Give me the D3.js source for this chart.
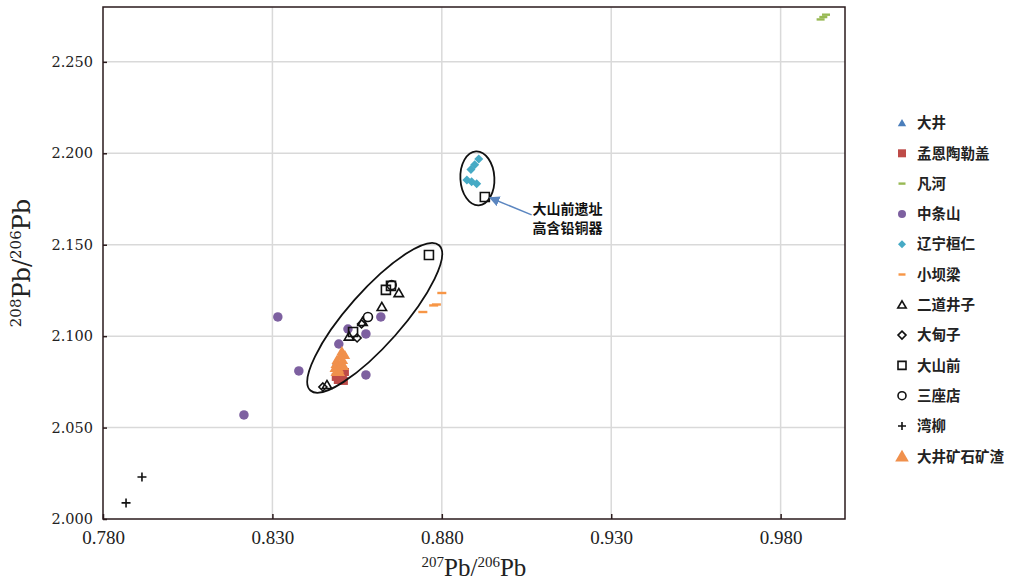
<!DOCTYPE html>
<html>
<head>
<meta charset="utf-8">
<script src="https://cdn.jsdelivr.net/npm/d3@7"></script>
<style>
  body { margin: 0; background: #fff; }
</style>
</head>
<body>
<svg id="chart"></svg>
<script>
// ---- data (207Pb/206Pb, 208Pb/206Pb) ----
const xTicks = [0.780, 0.830, 0.880, 0.930, 0.980];
const yTicks = [2.000, 2.050, 2.100, 2.150, 2.200, 2.250];

const dajing = [[0.8490, 2.0860], [0.8496, 2.0840]];
const mengen = [[0.8493, 2.0760], [0.8508, 2.0782], [0.8514, 2.0804], [0.8499, 2.0793],
                [0.8487, 2.0777], [0.8511, 2.0755], [0.8502, 2.0770]];
const fanhe = [[0.9918, 2.2732], [0.9926, 2.2745], [0.9934, 2.2758]];
const zhongtiao = [[0.8216, 2.0569], [0.8316, 2.1105], [0.8378, 2.0810], [0.8496, 2.0957],
                   [0.8523, 2.1039], [0.8576, 2.1012], [0.8576, 2.0788], [0.8620, 2.1105]];
const huanren = [[0.8909, 2.1969], [0.8897, 2.1937], [0.8886, 2.1912], [0.8874, 2.1854],
                 [0.8888, 2.1844], [0.8903, 2.1833]];
const xiaobaliang = [[0.8744, 2.1132], [0.8776, 2.1168], [0.8784, 2.1173], [0.8800, 2.1236]];
const erdao = [[0.8673, 2.1236], [0.8623, 2.1160], [0.8566, 2.1078], [0.8526, 2.0998], [0.8461, 2.0733]];
const dadianzi = [[0.8449, 2.0722], [0.8550, 2.0990], [0.8563, 2.1067]];
const dashanqian = [[0.8762, 2.1444], [0.8650, 2.1275], [0.8635, 2.1253], [0.8538, 2.1023], [0.8927, 2.1761]];
const sanzuodian = [[0.8582, 2.1105], [0.8652, 2.1280]];
const wanliu = [[0.7868, 2.0088], [0.7915, 2.0230]];
const slag = [[0.8505, 2.0919], [0.8514, 2.0897], [0.8499, 2.0892], [0.8490, 2.0870], [0.8508, 2.0870],
              [0.8487, 2.0848], [0.8502, 2.0848], [0.8484, 2.0826], [0.8496, 2.0821], [0.8511, 2.0837],
              [0.8487, 2.0804], [0.8499, 2.0804]];

const series = [
  { name: "大井", data: dajing, shape: "tri", color: "#4a7ebb", fill: true, size: 9 },
  { name: "孟恩陶勒盖", data: mengen, shape: "square", color: "#be4b48", fill: true, size: 8 },
  { name: "凡河", data: fanhe, shape: "dash", color: "#98b954", fill: true, size: 8 },
  { name: "中条山", data: zhongtiao, shape: "circle", color: "#7d60a0", fill: true, size: 9.5 },
  { name: "辽宁桓仁", data: huanren, shape: "diamond", color: "#46aac5", fill: true, size: 9 },
  { name: "小坝梁", data: xiaobaliang, shape: "dash", color: "#f79646", fill: true, size: 9 },
  { name: "二道井子", data: erdao, shape: "tri", color: "#111", fill: false, size: 9 },
  { name: "大甸子", data: dadianzi, shape: "diamond", color: "#111", fill: false, size: 8 },
  { name: "大山前", data: dashanqian, shape: "square", color: "#111", fill: false, size: 9 },
  { name: "三座店", data: sanzuodian, shape: "circle", color: "#111", fill: false, size: 9 },
  { name: "湾柳", data: wanliu, shape: "plus", color: "#111", fill: false, size: 9 },
  { name: "大井矿石矿渣", data: slag, shape: "tri", color: "#f0904c", fill: true, size: 10, legendSize: 13 }
];

// ellipses drawn around groups (centre in data units, radii in px, rotation deg)
const ellipses = [
  { cx: 0.8602, cy: 2.1100, rx: 97, ry: 27, rot: -48.5 },
  { cx: 0.8905, cy: 2.1863, rx: 17, ry: 27, rot: -3 }
];
const noteLines = ["大山前遗址", "高含铅铜器"];
const notePos = [0.9068, 2.1696];
const arrowTip = [0.8942, 2.1757];

// ---- layout ----
const W = 1015, H = 581;
const m = { left: 103, top: 7, right: 170, bottom: 62 };
const svg = d3.select("#chart").attr("width", W).attr("height", H);

const x = d3.scaleLinear().domain([0.780, 0.999]).range([m.left, W - m.right]);
const y = d3.scaleLinear().domain([2.000, 2.280]).range([H - m.bottom, m.top]);

function markerPath(shape, s) {
  const h = s / 2;
  switch (shape) {
    case "tri": return `M0,${-h}L${h * 1.05},${h * 0.8}L${-h * 1.05},${h * 0.8}Z`;
    case "square": return `M${-h},${-h}H${h}V${h}H${-h}Z`;
    case "diamond": return `M0,${-h}L${h},0L0,${h}L${-h},0Z`;
    case "circle": return d3.arc()({ innerRadius: 0, outerRadius: h, startAngle: 0, endAngle: 2 * Math.PI });
    case "dash": return `M${-h},-1.2H${h}V1.2H${-h}Z`;
    case "plus": return `M${-h},0H${h}M0,${-h}V${h}`;
  }
}

// gridlines
const g = svg.append("g");
g.selectAll(".vg").data(xTicks.slice(1)).join("line")
  .attr("x1", d => x(d)).attr("x2", d => x(d))
  .attr("y1", y.range()[0]).attr("y2", y.range()[1])
  .attr("stroke", "#d9d9d9").attr("stroke-width", 1.5);
g.selectAll(".hg").data(yTicks.slice(1)).join("line")
  .attr("y1", d => y(d)).attr("y2", d => y(d))
  .attr("x1", x.range()[0]).attr("x2", x.range()[1])
  .attr("stroke", "#d9d9d9").attr("stroke-width", 1.5);

// frame
g.append("rect")
  .attr("x", x.range()[0]).attr("y", y.range()[1])
  .attr("width", x.range()[1] - x.range()[0]).attr("height", y.range()[0] - y.range()[1])
  .attr("fill", "none").attr("stroke", "#2a1a1c").attr("stroke-width", 1.5);

// axes with inward ticks
const xAxis = svg.append("g").attr("transform", `translate(0,${y.range()[0]})`)
  .call(d3.axisBottom(x).tickValues(xTicks).tickFormat(d3.format(".3f")).tickSize(-5).tickPadding(12));
xAxis.select(".domain").remove();
xAxis.selectAll("line").attr("stroke", "#2a1a1c").attr("stroke-width", 1.5);
xAxis.selectAll("text").attr("font-family", "'Liberation Serif', serif").attr("font-size", 19)
  .attr("fill", "#222");

const yAxis = svg.append("g").attr("transform", `translate(${x.range()[0]},0)`)
  .call(d3.axisLeft(y).tickValues(yTicks).tickFormat(d3.format(".3f")).tickSize(-4).tickPadding(10));
yAxis.select(".domain").remove();
yAxis.selectAll("line").attr("stroke", "#2a1a1c").attr("stroke-width", 1.5);
yAxis.selectAll("text").attr("font-family", "'DejaVu Serif', serif").attr("font-size", 14.5)
  .attr("fill", "#222");

// axis titles
const xt = svg.append("text")
  .attr("x", (x.range()[0] + x.range()[1]) / 2).attr("y", 576)
  .attr("text-anchor", "middle")
  .attr("font-family", "'Liberation Serif', serif").attr("font-size", 25).attr("fill", "#222");
xt.append("tspan").attr("font-size", 15).attr("dy", -9).text("207");
xt.append("tspan").attr("dy", 9).text("Pb/");
xt.append("tspan").attr("font-size", 15).attr("dy", -9).text("206");
xt.append("tspan").attr("dy", 9).text("Pb");

const yt = svg.append("text")
  .attr("transform", `translate(30,${(y.range()[0] + y.range()[1]) / 2}) rotate(-90)`)
  .attr("text-anchor", "middle")
  .attr("font-family", "'DejaVu Serif', serif").attr("font-size", 24).attr("fill", "#222");
yt.append("tspan").attr("font-size", 15).attr("dy", -9).text("208");
yt.append("tspan").attr("dy", 9).text("Pb/");
yt.append("tspan").attr("font-size", 15).attr("dy", -9).text("206");
yt.append("tspan").attr("dy", 9).text("Pb");

// points
const pts = svg.append("g");
series.forEach(s => {
  pts.selectAll(null).data(s.data).join("path")
    .attr("transform", d => `translate(${x(d[0])},${y(d[1])})`)
    .attr("d", markerPath(s.shape, s.size))
    .attr("fill", s.fill ? s.color : "none")
    .attr("stroke", s.fill ? "none" : s.color)
    .attr("stroke-width", 1.6);
});

// ellipses
svg.append("g").selectAll("ellipse").data(ellipses).join("ellipse")
  .attr("transform", d => `translate(${x(d.cx)},${y(d.cy)}) rotate(${d.rot})`)
  .attr("rx", d => d.rx).attr("ry", d => d.ry)
  .attr("fill", "none").attr("stroke", "#111").attr("stroke-width", 1.8);

// annotation
svg.append("defs").append("marker")
  .attr("id", "ah").attr("viewBox", "0 0 10 10").attr("refX", 9).attr("refY", 5)
  .attr("markerWidth", 7).attr("markerHeight", 7).attr("orient", "auto")
  .append("path").attr("d", "M0,0L10,5L0,10Z").attr("fill", "#5b86c0");
svg.append("line")
  .attr("x1", x(notePos[0]) - 1).attr("y1", y(notePos[1]) + 6)
  .attr("x2", x(arrowTip[0])).attr("y2", y(arrowTip[1]))
  .attr("stroke", "#5b86c0").attr("stroke-width", 1.5).attr("marker-end", "url(#ah)");
svg.append("g").selectAll("text").data(noteLines).join("text")
  .attr("x", x(notePos[0])).attr("y", (d, i) => y(notePos[1]) + 5 + i * 19)
  .attr("font-family", "'Noto Sans CJK SC', sans-serif").attr("font-size", 14)
  .attr("font-weight", 700).attr("fill", "#111").text(d => d);

// legend
const lg = svg.append("g").attr("transform", "translate(902,123)");
const row = lg.selectAll("g").data(series).join("g")
  .attr("transform", (d, i) => `translate(0,${i * 30.3})`);
row.append("path")
  .attr("d", d => markerPath(d.shape, d.legendSize || (d.shape === "dash" ? 7 : 8)))
  .attr("fill", d => d.fill ? d.color : "none")
  .attr("stroke", d => d.fill ? "none" : d.color)
  .attr("stroke-width", 1.6);
row.append("text").attr("x", 15).attr("dy", "0.36em")
  .attr("font-family", "'Noto Sans CJK SC', sans-serif").attr("font-size", 14.5)
  .attr("font-weight", 700).attr("fill", "#222").text(d => d.name);
</script>
</body>
</html>
